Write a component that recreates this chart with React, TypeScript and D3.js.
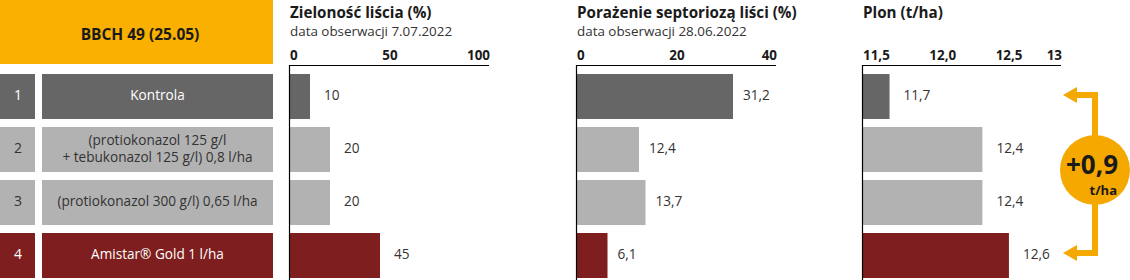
import { useEffect, useRef } from 'react';
import * as d3 from 'd3';

const rowIds = ['1', '2', '3', '4'];
const treatments = [
  ['Kontrola'],
  ['(protiokonazol 125 g/l', '+ tebukonazol 125 g/l) 0,8 l/ha'],
  ['(protiokonazol 300 g/l) 0,65 l/ha'],
  ['Amistar® Gold 1 l/ha'],
];
const greenness = [10, 20, 20, 45];
const septoria = [31.2, 12.4, 13.7, 6.1];
const yieldT = [11.7, 12.4, 12.4, 12.6];

const greenTicks = [0, 50, 100];
const septoriaTicks = [0, 20, 40];
const yieldTicks = [11.5, 12.0, 12.5, 13];
const yieldTickLabels = ['11,5', '12,0', '12,5', '13'];

const ORANGE = '#f9b000';
const ARROW = '#f5a800';
const DARK = '#666666';
const LIGHT = '#b2b2b2';
const RED = '#7e1e1e';
const rowFill = [DARK, LIGHT, LIGHT, RED];
const rowText = ['#ffffff', '#333333', '#333333', '#ffffff'];

const fmt = (v: number, digits: number) => v.toFixed(digits).replace('.', ',');

export default function App() {
  const svgRef = useRef<SVGSVGElement>(null);
  const width = 1130,
    height = 280;

  useEffect(() => {
    const svg = d3.select(svgRef.current);
    svg.selectAll('*').remove();
    svg.style('font-family', '"Open Sans", sans-serif');

    const y = d3.scaleBand().domain(rowIds).range([74, 278]).paddingInner(0.151).paddingOuter(0);

    // left header
    svg.append('rect').attr('x', 0).attr('y', 0).attr('width', 273).attr('height', 64).attr('fill', ORANGE);
    svg
      .append('text')
      .attr('x', 140)
      .attr('y', 36)
      .attr('text-anchor', 'middle')
      .attr('dominant-baseline', 'middle')
      .style('font-size', '15.5px')
      .style('font-weight', 'bold')
      .attr('fill', '#1a1a1a')
      .text('BBCH 49 (25.05)');

    // treatment rows
    const rows = svg
      .selectAll('g.row')
      .data(rowIds)
      .join('g')
      .attr('class', 'row')
      .attr('transform', (d) => `translate(0,${y(d)})`);

    rows.append('rect').attr('width', 35).attr('height', y.bandwidth()).attr('fill', (d, i) => rowFill[i]);
    rows
      .append('rect')
      .attr('x', 42)
      .attr('width', 231)
      .attr('height', y.bandwidth())
      .attr('fill', (d, i) => rowFill[i]);
    rows
      .append('text')
      .attr('x', 18)
      .attr('y', y.bandwidth() / 2)
      .attr('text-anchor', 'middle')
      .attr('dominant-baseline', 'middle')
      .style('font-size', '14px')
      .attr('fill', (d, i) => rowText[i])
      .text((d) => d);
    rows.each(function (d, i) {
      const lines = treatments[i];
      const lh = 17;
      d3.select(this)
        .selectAll('text.lbl')
        .data(lines)
        .join('text')
        .attr('class', 'lbl')
        .attr('x', 157.5)
        .attr('y', (l, j) => y.bandwidth() / 2 + (j - (lines.length - 1) / 2) * lh)
        .attr('text-anchor', 'middle')
        .attr('dominant-baseline', 'middle')
        .style('font-size', '13.6px')
        .attr('fill', rowText[i])
        .text((l) => l);
    });

    const panel = (
      x0: number,
      x1: number,
      domain: [number, number],
      ticks: number[],
      tickLabels: string[],
      midAnchor: string,
      values: number[],
      digits: number,
      title: string,
      subtitle: string,
      labelGap: number,
    ) => {
      const x = d3.scaleLinear().domain(domain).range([x0, x1]);
      const g = svg.append('g');
      g.append('text')
        .attr('x', x0)
        .attr('y', 18)
        .style('font-size', '15.2px')
        .style('font-weight', 'bold')
        .attr('fill', '#1a1a1a')
        .text(title);
      if (subtitle)
        g.append('text')
          .attr('x', x0)
          .attr('y', 36)
          .style('font-size', '13.4px')
          .attr('fill', '#333333')
          .text(subtitle);
      g.selectAll('text.tick')
        .data(ticks)
        .join('text')
        .attr('class', 'tick')
        .attr('x', (d) => x(d))
        .attr('y', 60)
        .attr('text-anchor', (d, i) => (i === 0 ? 'start' : i === ticks.length - 1 ? 'end' : midAnchor))
        .style('font-size', '13.4px')
        .style('font-weight', 'bold')
        .attr('fill', '#1a1a1a')
        .text((d, i) => tickLabels[i]);
      g.selectAll('rect.bar')
        .data(values)
        .join('rect')
        .attr('class', 'bar')
        .attr('x', x(domain[0]))
        .attr('y', (d, i) => y(rowIds[i])!)
        .attr('width', (d) => x(d) - x(domain[0]))
        .attr('height', y.bandwidth())
        .attr('fill', (d, i) => rowFill[i]);
      g.selectAll('text.val')
        .data(values)
        .join('text')
        .attr('class', 'val')
        .attr('x', (d) => x(d) + labelGap)
        .attr('y', (d, i) => y(rowIds[i])! + y.bandwidth() / 2)
        .attr('dominant-baseline', 'middle')
        .style('font-size', '13.6px')
        .attr('fill', '#333333')
        .text((d) => fmt(d, digits));
      g.append('line')
        .attr('x1', x0 - 0.5)
        .attr('x2', x1 - 1)
        .attr('y1', 65.5)
        .attr('y2', 65.5)
        .attr('stroke', '#000')
        .attr('stroke-width', 1.2);
      g.append('line')
        .attr('x1', x0 - 0.5)
        .attr('x2', x0 - 0.5)
        .attr('y1', 65)
        .attr('y2', height)
        .attr('stroke', '#000')
        .attr('stroke-width', 1.2);
      return x;
    };

    panel(290, 490, [0, 100], greenTicks, greenTicks.map(String), 'middle', greenness, 0,
      'Zieloność liścia (%)', 'data obserwacji 7.07.2022', 14);
    panel(577, 777, [0, 40], septoriaTicks, septoriaTicks.map(String), 'middle', septoria, 1,
      'Porażenie septoriozą liści (%)', 'data obserwacji 28.06.2022', 10);
    panel(863, 1062, [11.5, 13], yieldTicks, yieldTickLabels, 'start', yieldT, 1,
      'Plon (t/ha)', '', 14);

    // yield gain arrow
    const yTop = y(rowIds[0])! + y.bandwidth() / 2 - 1.5;
    const yBot = y(rowIds[3])! + y.bandwidth() / 2 - 2.5;
    const ax = 1095;
    const tip = 1063;
    const ag = svg.append('g');
    ag.append('path')
      .attr('d', `M${tip + 12},${yTop} H${ax} V${yBot} H${tip + 12}`)
      .attr('fill', 'none')
      .attr('stroke', ARROW)
      .attr('stroke-width', 6);
    [yTop, yBot].forEach((yy) => {
      ag.append('path')
        .attr('d', `M${tip},${yy} L${tip + 14},${yy - 8} L${tip + 14},${yy + 8} Z`)
        .attr('fill', ARROW);
    });
    ag.append('circle').attr('cx', ax).attr('cy', 170).attr('r', 35).attr('fill', ARROW);
    const gain = yieldT[3] - yieldT[0];
    ag.append('text')
      .attr('x', 1118)
      .attr('y', 174)
      .attr('text-anchor', 'end')
      .style('font-size', '26px')
      .style('font-weight', 'bold')
      .attr('fill', '#1a1a1a')
      .text(`+${fmt(gain, 1)}`);
    ag.append('text')
      .attr('x', 1117)
      .attr('y', 195)
      .attr('text-anchor', 'end')
      .style('font-size', '13px')
      .style('font-weight', 'bold')
      .attr('fill', '#1a1a1a')
      .text('t/ha');
  }, []);

  return (
    <svg
      ref={svgRef}
      width={width}
      height={height}
      viewBox={`0 0 ${width} ${height}`}
      style={{ position: 'absolute', left: 0, top: 0, background: '#fff' }}
    ></svg>
  );
}
